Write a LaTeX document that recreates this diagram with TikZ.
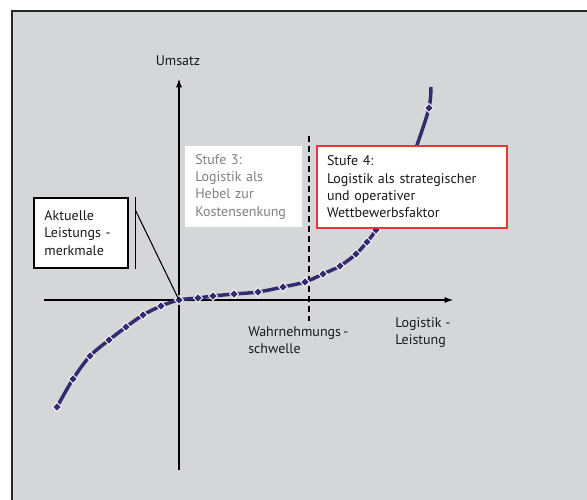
\documentclass[tikz,border=0pt]{standalone}
\usepackage{fontspec}
\setmainfont{PT Sans}
\usetikzlibrary{positioning, arrows.meta, shapes.geometric, calc}
\definecolor{c-bg}{RGB}{213,214,216}
\definecolor{c-frame}{RGB}{40,40,40}
\definecolor{c-navy}{RGB}{52,42,112}
\definecolor{c-grey}{RGB}{128,128,128}
\definecolor{c-red}{RGB}{232,52,52}
\definecolor{c-text}{RGB}{25,25,25}

\begin{document}
\begin{tikzpicture}[
    x=0.75pt, y=-0.75pt,
    font=\fontsize{10.5}{13}\selectfont, text=c-text,
    axis/.style={line width=1.5pt, -{Latex[length=7pt, width=4.5pt]}},
    thresh/.style={line width=1.5pt, dash pattern=on 4.5pt off 3pt},
    stufe/.style={rectangle, anchor=north west, align=left, inner xsep=7.5pt, fill=white},
    txt/.style={align=left, anchor=north west, inner sep=0pt},
    dot/.style={diamond, fill=c-navy, draw=white, line width=0.7pt, inner sep=0pt, minimum size=7pt}
]
    \useasboundingbox (0,0) rectangle (587,500);
    \clip (0,0) rectangle (587,500);
    \fill[c-bg] (11.5,11) rectangle (600,510);
    \draw[line width=1.5pt, c-frame] (11.5,510) -- (11.5,11) -- (600,11);

    % axes
    \coordinate (o) at (179,300);
    \coordinate (xstart) at (44,300);
    \coordinate (xend) at (454,300);
    \coordinate (ystart) at (179,470);
    \coordinate (yend) at (179,78);
    \draw[axis] (xstart) -- (xend);
    \draw[axis] (ystart) -- (yend);
    \node (umsatz) at (178,61) {Umsatz};

    % Wahrnehmungsschwelle
    \coordinate (ws-top) at (309,136);
    \coordinate (ws-bot) at (309,321);
    \draw[thresh] (ws-top) -- (ws-bot);

    % Kurve
    \draw[line width=2.6pt, c-navy] plot[smooth, tension=0.5] coordinates {
        (57,407) (73,379) (90,356) (109,340) (126,327) (143,315) (161,306)
        (179,300) (198,298) (213,296) (234,294) (258,292) (283,287) (305,282)
        (323,274) (340,266) (356,254) (367,242) (376,230) (398,195) (417,145)
        (429,108) (431,87)};
    \foreach \x/\y in {57/407, 73/379, 90/356, 109/340, 126/327, 143/315, 161/306,
        179/300, 198/298, 213/296, 234/294, 258/292, 283/287, 305/282,
        323/274, 340/266, 356/254, 367/242, 376/230, 429/108}
        \node[dot] at (\x,\y) {};

    % Stufen
    \node[stufe, text=c-grey, text width=72.75pt, minimum height=60.75pt] (stufe3) at (185,146)
        {Stufe 3:\\Logistik als\\Hebel zur\\Kostensenkung};
    \node[stufe, draw=c-red, line width=1.5pt, text width=127.5pt, minimum height=61.5pt] (stufe4) at (316,145)
        {Stufe 4:\\Logistik als strategischer\\und operativer\\Wettbewerbsfaktor};

    % Leistungsmerkmale
    \node[stufe, draw=black, line width=1.2pt, inner xsep=8pt, text width=54.5pt, minimum height=52.5pt] (aktuell) at (33,197)
        {Aktuelle\\Leistungs -\\merkmale};
    \coordinate (br-top) at ([xshift=5pt]aktuell.north east);
    \coordinate (br-bot) at ([xshift=5pt]aktuell.south east);
    \draw[line width=1pt] (br-top) -- (br-bot);
    \draw[line width=0.8pt] ($(br-top)!0.18!(br-bot)$) -- (o);

    \node[txt] (schwelle) at (248,326) {Wahrnehmungs\,-\\schwelle};
    \node[txt] (leistung) at (395,317) {Logistik -\\Leistung};
\end{tikzpicture}
\end{document}
